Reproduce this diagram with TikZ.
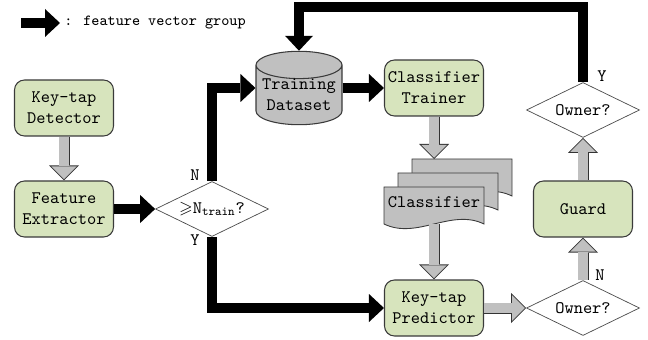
\documentclass[tikz,border=0pt]{standalone}
\usepackage{amsmath,amssymb}
\usepackage{tikz}
\usetikzlibrary{arrows.meta,positioning,calc,shapes.geometric}
\definecolor{boxgreen}{HTML}{D7E4BD}
\definecolor{paper}{HTML}{C0C0C0}
\definecolor{rim}{HTML}{3A3A3A}
\tikzset{
  % bokser
  blk/.style={rectangle,rounded corners=2mm,draw=rim,fill=boxgreen,line width=0.6pt,
              minimum width=19.8mm,minimum height=11.2mm,align=center,inner sep=0pt,
              font=\ttfamily},
  dec/.style={diamond,aspect=2,draw=black!70,fill=white,line width=0.4pt,inner sep=0pt,
              minimum width=22.6mm,minimum height=11mm,font=\ttfamily},
  db/.style={cylinder,shape border rotate=90,aspect=0.37,draw=rim,fill=paper,
             line width=0.6pt,minimum width=17.2mm,minimum height=14.6mm,align=center,
             inner sep=0pt,font=\ttfamily},
  sheet/.style={draw=rim,fill=paper,line width=0.5pt},
  yn/.style={font=\ttfamily,inner sep=0pt},
  % piler
  fv/.style={draw=black,line width=2mm,-{Triangle[width=5.6mm,length=3mm,line width=0pt]}},
  ga/.style={draw=paper,line width=1.84mm,
             -{Triangle[width=5.1mm,length=2.55mm,line width=0pt]},shorten >=0.25mm,
             preaction={draw=black!80,line width=2.2mm,shorten >=0pt,
                        -{Triangle[width=6mm,length=3mm,line width=0pt]}}},
}
\begin{document}
\begin{tikzpicture}[x=0.2mm,y=-0.2mm]
\useasboundingbox (0,0) rectangle (648,340);
  \coordinate (lgA) at (21,23);
  \node[anchor=west,inner sep=0.8mm,font=\ttfamily\fontsize{8.8}{10}\selectfont] (lgtext) at (60,23) {: feature vector group};
  \draw[fv] (lgA) -- (lgtext);
  \node[blk] (det) at (64,108) {Key-tap\\Detector};
  \node[blk] (feat) at (64,209) {Feature\\Extractor};
  \node[dec] (ntr) at (212,209) {$\geqslant$N$_{\text{train}}$?};
  \node[db,anchor=shape center] (data) at (299,88) {Training\\Dataset};
  \node[blk] (trainer) at (434,88) {Classifier\\Trainer};
  \draw[sheet] (412,159) -- ++(100,0) -- ++(0,37) .. controls +(-33,-16) and +(33,16) .. ++(-100,0) -- cycle;
  \draw[sheet] (398,173) -- ++(100,0) -- ++(0,37) .. controls +(-33,-16) and +(33,16) .. ++(-100,0) -- cycle;
  \draw[sheet] (384,187) -- ++(100,0) -- ++(0,37) .. controls +(-33,-16) and +(33,16) .. ++(-100,0) -- cycle;
  \node[font=\ttfamily,inner sep=0pt] (clf) at (434,202) {Classifier};
  \coordinate (clfin) at (434,159);
  \coordinate (clfout) at (434,224);
  \node[blk] (pred) at (434,308) {Key-tap\\Predictor};
  \node[dec] (own2) at (583,308) {Owner?};
  \node[blk] (guard) at (583,209) {Guard};
  \node[dec] (own1) at (583,110) {Owner?};
  \coordinate (loop) at (440,7);
  \node[yn] (ntrN) at (195,175) {N};
  \node[yn] (ntrY) at (195,240) {Y};
  \node[yn] (own1Y) at (602,76) {Y};
  \node[yn] (own2N) at (600,275) {N};
  \draw[ga] (det) -- (feat);
  \draw[fv] (feat) -- (ntr);
  \draw[fv] (ntr.north) |- (data.shape center -| data.west);
  \draw[fv] (ntr.south) |- (pred);
  \draw[fv] (data.shape center -| data.east) -- (trainer);
  \draw[ga] (trainer) -- (clfin);
  \draw[ga] (clfout) -- (pred);
  \draw[ga] (pred) -- (own2);
  \draw[ga] (own2) -- (guard);
  \draw[ga] (guard) -- (own1);
  \draw[fv] (own1.north) |- (loop) -| (data.north);
\end{tikzpicture}
\end{document}
